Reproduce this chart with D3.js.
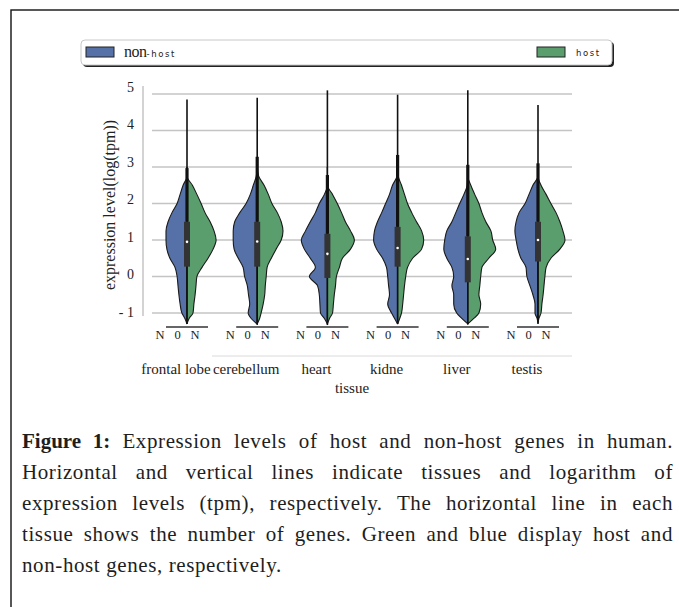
<!DOCTYPE html>
<html lang="en">
<head>
    <meta charset="UTF-8">
    <title>Expression levels of host and non-host genes</title>
    <script src="https://d3js.org/d3.v7.min.js"></script>
    <style>
        body { margin: 0; background: #ffffff; }
        #chart { position: absolute; left: 0; top: 0; }
        .caption {
            position: absolute;
            left: 22px;
            top: 426px;
            width: 651px;
            font-family: "Liberation Serif", serif;
            font-size: 21px;
            line-height: 31px;
            color: #1e1e1e;
            letter-spacing: 0.6px;
        }
        .caption b { font-weight: 600; letter-spacing: 0; }
        .caption span { display: block; text-align: justify; text-align-last: justify; white-space: nowrap; }
        .caption span.last { text-align-last: left; }
        .serif { font-family: "Liberation Serif", serif; fill: #222; }
    </style>
</head>
<body>
    <div id="chart"></div>
    <div class="caption">
        <span><b>Figure 1:</b> Expression levels of host and non-host genes in human.</span>
        <span>Horizontal and vertical lines indicate tissues and logarithm of</span>
        <span>expression levels (tpm), respectively. The horizontal line in each</span>
        <span>tissue shows the number of genes. Green and blue display host and</span>
        <span class="last">non-host genes, respectively.</span>
    </div>
    <script>
        const tissues = ["frontal lobe", "cerebellum", "heart", "kidne", "liver", "testis"];
        const seriesNames = ["non-host", "host"];
        const seriesColors = ["#5571a7", "#5b9e6e"];
        const yTicks = [-1, 0, 1, 2, 3, 4, 5];
        const countLabels = ["N", "0", "N"];

        const levels = [-1.3, -1.15, -1, -0.75, -0.5, -0.25, 0, 0.25, 0.5, 0.75, 1, 1.25, 1.5, 1.75, 2, 2.25, 2.5, 2.75, 3];

        const nonHostDensity = [
            [0, .07, .17, .23, .27, .30, .33, .40, .57, .67, .70, .70, .63, .50, .33, .23, .13, 0, 0],
            [0, .20, .30, .25, .29, .33, .42, .47, .63, .77, .80, .80, .75, .58, .37, .23, .13, .03, 0],
            [0, .10, .23, .25, .27, .33, .60, .40, .57, .77, .87, .73, .57, .40, .27, .10, 0, 0, 0],
            [0, .10, .20, .33, .27, .30, .33, .37, .50, .70, .80, .77, .67, .53, .40, .27, .17, .02, 0],
            [0, .20, .37, .47, .47, .53, .47, .53, .70, .80, .77, .70, .53, .40, .27, .13, .02, 0, 0],
            [0, .03, .10, .10, .17, .27, .37, .40, .57, .67, .73, .77, .73, .63, .43, .30, .17, 0, 0]
        ];
        const hostDensity = [
            [0, .07, .20, .23, .27, .30, .33, .50, .70, .87, .97, .90, .77, .60, .47, .33, .18, 0, 0],
            [0, .08, .13, .20, .25, .27, .30, .33, .47, .63, .80, .86, .80, .67, .49, .37, .23, .05, 0],
            [0, .07, .17, .20, .23, .27, .30, .40, .50, .77, .90, .77, .60, .47, .33, .17, 0, 0, 0],
            [0, .07, .13, .17, .20, .23, .27, .33, .50, .80, .87, .80, .63, .47, .33, .23, .13, .02, 0],
            [0, .20, .37, .43, .37, .40, .43, .47, .70, .93, .83, .77, .60, .47, .37, .23, .10, 0, 0],
            [0, .03, .10, .13, .17, .20, .23, .27, .43, .73, .90, .83, .73, .60, .43, .27, .10, 0, 0]
        ];

        const minValue = [-1.3, -1.32, -1.33, -1.3, -1.3, -1.27];
        const q1 = [0.27, 0.27, -0.04, 0.27, -0.16, 0.41];
        const medians = [0.95, 0.96, 0.62, 0.78, 0.48, 1.0];
        const q3 = [1.5, 1.5, 1.17, 1.36, 1.1, 1.5];
        const upperWhisker = [2.97, 3.28, 2.78, 3.33, 3.06, 3.1];
        const maxValue = [4.85, 4.9, 5.1, 4.98, 5.1, 4.7];

        const svg = d3.select("#chart")
            .append("svg")
            .attr("width", 679)
            .attr("height", 607);

        // frame of the figure (only top and left edges are inside the picture)
        svg.append("rect")
            .attr("x", 11).attr("y", 10)
            .attr("width", 700).attr("height", 700)
            .attr("fill", "none")
            .attr("stroke", "#111")
            .attr("stroke-width", 1.4);

        const x = d3.scalePoint()
            .domain(tissues)
            .range([187, 538]);

        const y = d3.scaleLinear()
            .domain([-1, 5])
            .range([313, 94]);

        // tick labels sit on a slightly wider spacing than the grid
        const yLabel = d3.scaleLinear()
            .domain([-1, 5])
            .range([312, 87]);

        const w = d3.scaleLinear()
            .domain([0, 1])
            .range([0, 30]);

        // grid
        svg.append("g")
            .selectAll("line")
            .data(yTicks)
            .join("line")
            .attr("x1", 152).attr("x2", 572)
            .attr("y1", d => y(d)).attr("y2", d => y(d))
            .attr("stroke", "#c4c4c4")
            .attr("stroke-width", 1.5);

        svg.append("line")
            .attr("x1", 143).attr("x2", 143)
            .attr("y1", 86).attr("y2", 316)
            .attr("stroke", "#c4c4c4")
            .attr("stroke-width", 1.5);

        svg.append("g")
            .selectAll("text")
            .data(yTicks)
            .join("text")
            .attr("class", "serif")
            .attr("x", 134)
            .attr("y", d => yLabel(d))
            .attr("dy", "0.35em")
            .attr("text-anchor", "end")
            .attr("font-size", 14)
            .text(d => d < 0 ? "- " + Math.abs(d) : d);

        svg.append("text")
            .attr("class", "serif")
            .attr("transform", "translate(115,205) rotate(-90)")
            .attr("text-anchor", "middle")
            .attr("font-size", 16)
            .text("expression level(log(tpm))");

        // violins
        const violins = svg.append("g");

        tissues.forEach((t, i) => {
            const cx = x(t);
            const g = violins.append("g");

            const left = d3.area()
                .curve(d3.curveMonotoneY)
                .y((d, j) => y(levels[j]))
                .x0(cx)
                .x1(d => cx - w(d));

            const right = d3.area()
                .curve(d3.curveMonotoneY)
                .y((d, j) => y(levels[j]))
                .x0(cx)
                .x1(d => cx + w(d));

            g.append("path")
                .datum(nonHostDensity[i])
                .attr("d", left)
                .attr("fill", seriesColors[0])
                .attr("stroke", "#1a1a1a")
                .attr("stroke-width", 1.1);

            g.append("path")
                .datum(hostDensity[i])
                .attr("d", right)
                .attr("fill", seriesColors[1])
                .attr("stroke", "#1a1a1a")
                .attr("stroke-width", 1.1);

            // whole range
            g.append("line")
                .attr("x1", cx).attr("x2", cx)
                .attr("y1", y(minValue[i])).attr("y2", y(maxValue[i]))
                .attr("stroke", "#111")
                .attr("stroke-width", 1.6);

            // upper whisker
            g.append("line")
                .attr("x1", cx).attr("x2", cx)
                .attr("y1", y(q3[i])).attr("y2", y(upperWhisker[i]))
                .attr("stroke", "#111")
                .attr("stroke-width", 3.2);

            g.append("rect")
                .attr("x", cx - 3)
                .attr("width", 6)
                .attr("y", y(q3[i]))
                .attr("height", y(q1[i]) - y(q3[i]))
                .attr("fill", "#333");

            g.append("circle")
                .attr("cx", cx)
                .attr("cy", y(medians[i]))
                .attr("r", 1.3)
                .attr("fill", "#fff");

            // gene count line with its labels
            g.append("line")
                .attr("x1", cx - 21).attr("x2", cx + 21)
                .attr("y1", 327).attr("y2", 327)
                .attr("stroke", "#333")
                .attr("stroke-width", 1.3);

            const cnt = d3.scalePoint()
                .domain(d3.range(countLabels.length))
                .range([cx - 27, cx + 8]);

            g.selectAll("text.count")
                .data(countLabels)
                .join("text")
                .attr("class", "count serif")
                .attr("x", (d, j) => cnt(j))
                .attr("y", 339)
                .attr("text-anchor", "middle")
                .attr("font-size", 12.5)
                .attr("fill", "#2a2a3a")
                .text(d => d);
        });

        // tissue labels
        svg.append("line")
            .attr("x1", 212).attr("x2", 572)
            .attr("y1", 356).attr("y2", 356)
            .attr("stroke", "#dadada")
            .attr("stroke-width", 1);

        svg.append("g")
            .selectAll("text")
            .data(tissues)
            .join("text")
            .attr("class", "serif")
            .attr("x", d => x(d) - 11)
            .attr("y", 374)
            .attr("text-anchor", "middle")
            .attr("font-size", 15)
            .text(d => d);

        svg.append("text")
            .attr("class", "serif")
            .attr("x", 352)
            .attr("y", 393)
            .attr("text-anchor", "middle")
            .attr("font-size", 15)
            .text("tissue");

        // legend
        const legend = svg.append("g");
        legend.append("rect")
            .attr("x", 83).attr("y", 42)
            .attr("width", 531).attr("height", 25)
            .attr("rx", 4)
            .attr("fill", "#222");
        legend.append("rect")
            .attr("x", 81).attr("y", 40)
            .attr("width", 531).attr("height", 25)
            .attr("rx", 4)
            .attr("fill", "#fff")
            .attr("stroke", "#c8c8c8");

        const legendX = [86, 537];
        seriesNames.forEach((name, i) => {
            legend.append("rect")
                .attr("x", legendX[i]).attr("y", 47)
                .attr("width", 28).attr("height", 10)
                .attr("fill", seriesColors[i])
                .attr("stroke", "#222")
                .attr("stroke-width", 1);
        });

        const nonHostLabel = legend.append("text")
            .attr("x", 124).attr("y", 57);
        nonHostLabel.append("tspan")
            .attr("font-family", "Liberation Serif, serif")
            .attr("font-size", 16)
            .attr("fill", "#222")
            .attr("letter-spacing", -0.5)
            .text(seriesNames[0].split("-")[0]);
        nonHostLabel.append("tspan")
            .attr("font-family", "DejaVu Sans, sans-serif")
            .attr("font-size", 8.5)
            .attr("fill", "#222")
            .attr("letter-spacing", 1.6)
            .text("-" + seriesNames[0].split("-")[1]);

        legend.append("text")
            .attr("x", 576).attr("y", 56)
            .attr("font-family", "DejaVu Sans, sans-serif")
            .attr("font-size", 8.5)
            .attr("fill", "#222")
            .attr("letter-spacing", 1.6)
            .text(seriesNames[1]);
    </script>
</body>
</html>
